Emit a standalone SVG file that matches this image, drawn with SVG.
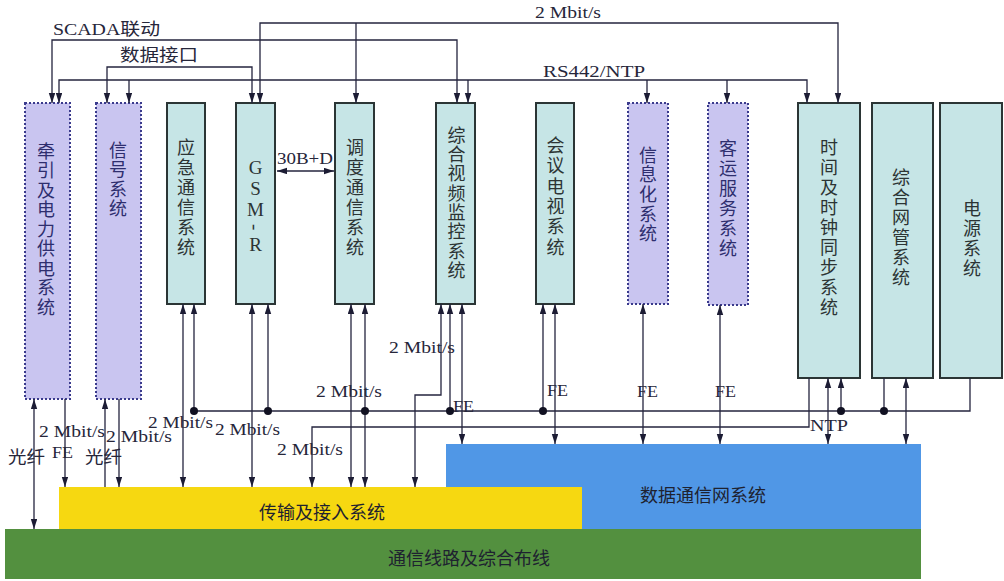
<svg xmlns="http://www.w3.org/2000/svg" width="1004" height="581" viewBox="0 0 1004 581">
<defs>
<style>
.bg{fill:#ffffff}
.cyan rect{fill:#c6e5e6;stroke:#2b3535;stroke-width:2}
.lav rect{fill:#c9c5f0;stroke:#3a3a8c;stroke-width:2;stroke-dasharray:2 2}
.nt{font-family:"Noto Sans CJK SC","Noto Sans",sans-serif;font-size:18px;fill:#2c3434;writing-mode:vertical-rl;text-orientation:upright}
.lav .nt{fill:#2e2e6e}
.gsm{font-family:"Liberation Serif",serif;font-size:19px;fill:#2c3434;writing-mode:vertical-rl;text-orientation:upright}
.ln{fill:none;stroke:#24243e;stroke-width:1.3}
.ar{marker-end:url(#ah)}
.dar{marker-start:url(#ah);marker-end:url(#ah)}
.dot{fill:#111122}
.lb{font-family:"Liberation Serif","Noto Sans CJK SC",serif;font-size:17px;fill:#26263a}
.cj{font-family:"Noto Sans CJK SC",sans-serif;font-size:17px;fill:#26263a}
.big{font-family:"Noto Sans CJK SC",sans-serif;font-size:18px;fill:#1e2230;text-anchor:middle;dominant-baseline:central}
</style>
<marker id="ah" markerUnits="userSpaceOnUse" markerWidth="10" markerHeight="7" refX="10" refY="3.2" orient="auto-start-reverse">
<path d="M0,0 L10,3.2 L0,6.4 z" fill="#1c1c34"/>
</marker>
</defs>
<rect class="bg" x="0" y="0" width="1004" height="581"/>

<g id="layer-data">
<rect x="446" y="444" width="475" height="85" fill="#5097e6"/>
<text class="big" x="703" y="494">数据通信网系统</text>
</g>
<g id="layer-transport">
<rect x="59" y="487" width="523" height="42" fill="#f6d811"/>
<text class="big" x="322" y="511">传输及接入系统</text>
</g>
<g id="layer-cabling">
<rect x="5" y="529" width="916" height="50" fill="#53903f"/>
<text class="big" x="469" y="557">通信线路及综合布线</text>
</g>

<g id="n-traction" class="lav">
<rect x="25" y="103" width="45" height="296"/>
<text class="nt" x="46" y="142" style="letter-spacing:1.5px">牵引及电力供电系统</text>
</g>
<g id="n-signal" class="lav">
<rect x="96" y="103" width="45" height="296"/>
<text class="nt" x="118" y="141" style="letter-spacing:1.5px">信号系统</text>
</g>
<g id="n-emergency" class="cyan">
<rect x="167" y="103" width="38" height="201"/>
<text class="nt" x="186" y="138" style="letter-spacing:2px">应急通信系统</text>
</g>
<g id="n-gsmr" class="cyan">
<rect x="236" y="103" width="39" height="201"/>
<text class="gsm" x="255.5" y="157">GSM<tspan y="224" style="text-orientation:sideways">-</tspan><tspan y="234">R</tspan></text>
</g>
<g id="n-dispatch" class="cyan">
<rect x="335" y="103" width="39" height="201"/>
<text class="nt" x="355" y="138" style="letter-spacing:2px">调度通信系统</text>
</g>
<g id="n-video" class="cyan">
<rect x="436" y="103" width="39" height="201"/>
<text class="nt" x="456.5" y="126" style="letter-spacing:1.3px">综合视频监控系统</text>
</g>
<g id="n-conference" class="cyan">
<rect x="536" y="103" width="38" height="201"/>
<text class="nt" x="555.5" y="136" style="letter-spacing:2.4px">会议电视系统</text>
</g>
<g id="n-info" class="lav">
<rect x="628" y="103" width="40" height="201"/>
<text class="nt" x="648" y="146" style="letter-spacing:1.6px">信息化系统</text>
</g>
<g id="n-passenger" class="lav">
<rect x="708" y="103" width="40" height="202"/>
<text class="nt" x="728" y="139" style="letter-spacing:2px">客运服务系统</text>
</g>
<g id="n-clock" class="cyan">
<rect x="798" y="103" width="62" height="275"/>
<text class="nt" x="829" y="138" style="letter-spacing:2px">时间及时钟同步系统</text>
</g>
<g id="n-nms" class="cyan">
<rect x="872" y="103" width="61" height="275"/>
<text class="nt" x="901" y="168" style="letter-spacing:2px">综合网管系统</text>
</g>
<g id="n-power" class="cyan">
<rect x="940" y="103" width="62" height="275"/>
<text class="nt" x="972" y="199" style="letter-spacing:2px">电源系统</text>
</g>

<g id="connectors">
<path class="ln dar" d="M260,103 V23 H838 V103"/>
<path class="ln ar" d="M356,23 V103"/>
<path class="ln dar" d="M52,103 V40 H457 V103"/>
<path class="ln dar" d="M107,103 V67 H252 V103"/>
<path class="ln dar" d="M59,103 V80 H807 V103"/>
<path class="ln ar" d="M129,80 V103"/>
<path class="ln ar" d="M468,80 V103"/>
<path class="ln ar" d="M647,80 V103"/>
<path class="ln ar" d="M727,80 V103"/>
<path class="ln dar" d="M277,171 H334"/>

<path class="ln dar" d="M34,399 V529"/>
<path class="ln ar" d="M65,399 V487"/>
<path class="ln ar" d="M105,487 V399"/>
<path class="ln ar" d="M119,399 V487"/>
<path class="ln dar" d="M183,304 V487"/>
<path class="ln ar" d="M194,411 V304"/>
<path class="ln dar" d="M252,304 V487"/>
<path class="ln ar" d="M268,411 V304"/>
<path class="ln dar" d="M351,304 V487"/>
<path class="ln dar" d="M365,304 V487"/>
<path class="ln dar" d="M441,304 V395 H415 V487"/>
<path class="ln ar" d="M450,411 V304"/>
<path class="ln dar" d="M462,304 V444"/>
<path class="ln ar" d="M543,411 V304"/>
<path class="ln dar" d="M555,304 V444"/>
<path class="ln dar" d="M643,304 V444"/>
<path class="ln dar" d="M720,305 V444"/>
<path class="ln ar" d="M809,378 V427 H312 V487"/>
<path class="ln dar" d="M828,378 V444"/>
<path class="ln ar" d="M841,411 V378"/>
<path class="ln" d="M884,378 V411"/>
<path class="ln dar" d="M906,378 V444"/>
<path class="ln" d="M194,411 H970 V378"/>
<circle class="dot" cx="194" cy="411" r="4"/>
<circle class="dot" cx="268" cy="411" r="4"/>
<circle class="dot" cx="365" cy="411" r="4"/>
<circle class="dot" cx="450" cy="411" r="4"/>
<circle class="dot" cx="543" cy="411" r="4"/>
<circle class="dot" cx="841" cy="411" r="4"/>
<circle class="dot" cx="884" cy="411" r="4"/>
</g>

<g id="labels">
<text class="lb" x="535" y="18" textLength="66" lengthAdjust="spacingAndGlyphs">2 Mbit/s</text>
<text class="lb" x="53" y="35" textLength="107" lengthAdjust="spacingAndGlyphs">SCADA联动</text>
<text class="cj" x="120" y="61" textLength="78" lengthAdjust="spacingAndGlyphs">数据接口</text>
<text class="lb" x="543" y="77" textLength="102" lengthAdjust="spacingAndGlyphs">RS442/NTP</text>
<text class="lb" x="277" y="164" textLength="56" lengthAdjust="spacingAndGlyphs">30B+D</text>
<text class="lb" x="39" y="437" textLength="66" lengthAdjust="spacingAndGlyphs">2 Mbit/s</text>
<text class="lb" x="52" y="458" textLength="21" lengthAdjust="spacingAndGlyphs">FE</text>
<text class="cj" x="8" y="463" textLength="37" lengthAdjust="spacingAndGlyphs">光纤</text>
<text class="cj" x="85" y="463" textLength="37" lengthAdjust="spacingAndGlyphs">光纤</text>
<text class="lb" x="106" y="442" textLength="66" lengthAdjust="spacingAndGlyphs">2 Mbit/s</text>
<text class="lb" x="148" y="428" textLength="65" lengthAdjust="spacingAndGlyphs">2 Mbit/s</text>
<text class="lb" x="215" y="435" textLength="65" lengthAdjust="spacingAndGlyphs">2 Mbit/s</text>
<text class="lb" x="277" y="455" textLength="66" lengthAdjust="spacingAndGlyphs">2 Mbit/s</text>
<text class="lb" x="316" y="397" textLength="66" lengthAdjust="spacingAndGlyphs">2 Mbit/s</text>
<text class="lb" x="389" y="353" textLength="66" lengthAdjust="spacingAndGlyphs">2 Mbit/s</text>
<text class="lb" x="453" y="412" textLength="21" lengthAdjust="spacingAndGlyphs">FE</text>
<text class="lb" x="547" y="396" textLength="21" lengthAdjust="spacingAndGlyphs">FE</text>
<text class="lb" x="637" y="397" textLength="21" lengthAdjust="spacingAndGlyphs">FE</text>
<text class="lb" x="715" y="397" textLength="21" lengthAdjust="spacingAndGlyphs">FE</text>
<text class="lb" x="810" y="431" textLength="38" lengthAdjust="spacingAndGlyphs">NTP</text>
</g>
</svg>
